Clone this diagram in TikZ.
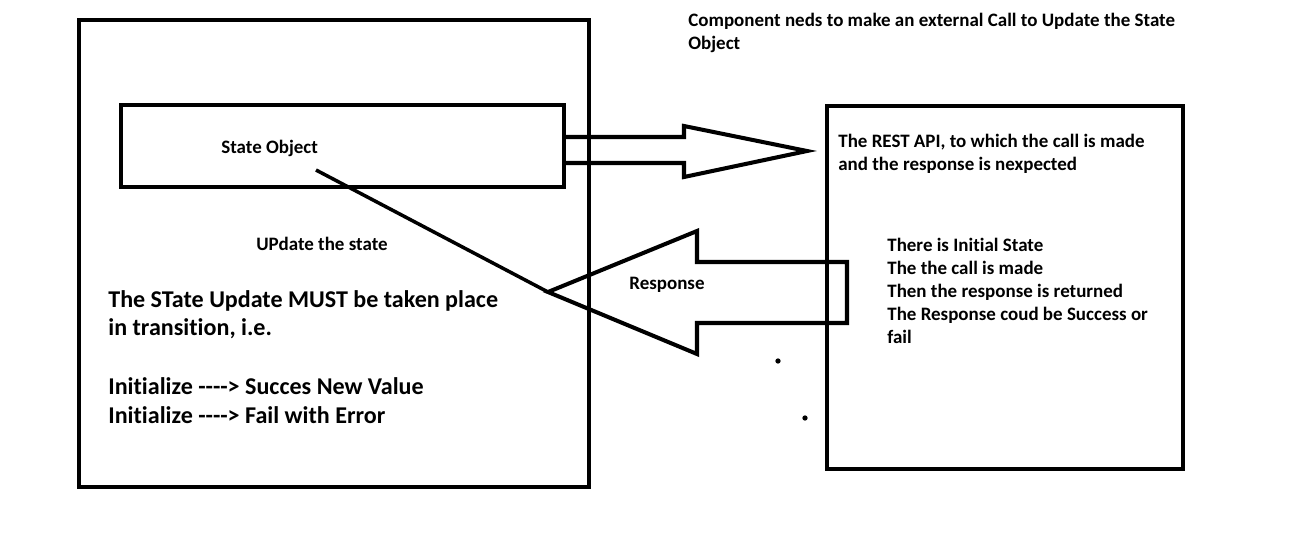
\documentclass[tikz,border=0pt]{standalone}
\usepackage{fontspec}
\setmainfont{Carlito}[Ligatures=NoCommon]
\usetikzlibrary{positioning}

\tikzset{
  smalltext/.style={anchor=base west, inner sep=0pt, font=\fontsize{10.8}{13}\selectfont\bfseries},
  bigtext/.style={anchor=base west, inner sep=0pt, font=\fontsize{13.7}{15.9}\selectfont\bfseries},
  heavy/.style={line width=2.3pt, line join=miter}
}

\begin{document}
\begin{tikzpicture}[x=0.02cm, y=-0.02cm]
\useasboundingbox (0,0) rectangle (1306,542);
% boxes
\draw[heavy] (79,20) rectangle (589,487);
\draw[heavy] (121,105) rectangle (564,187);
\draw[heavy] (827,106) rectangle (1183,469);
% call arrow
\coordinate (calltip) at (807,151);
\draw[heavy] (564,137) -- (684,137) -- (684,126) -- (calltip) -- (684,177) -- (684,163) -- (564,163);
% response arrow
\coordinate (resptip) at (548,292);
\draw[heavy] (847,262) -- (697,262) -- (697,231) -- (resptip) -- (697,354) -- (697,323) -- (847,323) -- cycle;
% texts
\node[smalltext] (state) at (221,153) {State Object};
\node[smalltext] (upd) at (256,250) {UPdate the state};
\node[bigtext] (must1) at (108,307) {The STate Update MUST be taken place};
\node[bigtext] (must2) at (108,335) {in transition, i.e.};
\node[bigtext] (init1) at (108,394) {Initialize {-}{-}{-}{-}> Succes New Value};
\node[bigtext] (init2) at (108,423) {Initialize {-}{-}{-}{-}> Fail with Error};
\node[smalltext] (comp1) at (688,26) {Component neds to make an external Call to Update the State};
\node[smalltext] (comp2) at (688,49) {Object};
\node[smalltext] (rest1) at (838,147) {The REST API, to which the call is made};
\node[smalltext] (rest2) at (838,170) {and the response is nexpected};
\node[smalltext] (resp) at (629,289) {Response};
\node[smalltext] (list1) at (887,251) {There is Initial State};
\node[smalltext] (list2) at (887,274) {The the call is made};
\node[smalltext] (list3) at (887,297) {Then the response is returned};
\node[smalltext] (list4) at (887,320) {The Response coud be Success or};
\node[smalltext] (list5) at (887,343) {fail};
% link from state object
\coordinate (linkstart) at (316,170);
\draw[heavy, line width=2pt] (linkstart) -- (resptip);
% stray dots
\fill (778,361) circle[radius=1.5pt];
\fill (805,418) circle[radius=1.5pt];
\end{tikzpicture}
\end{document}
